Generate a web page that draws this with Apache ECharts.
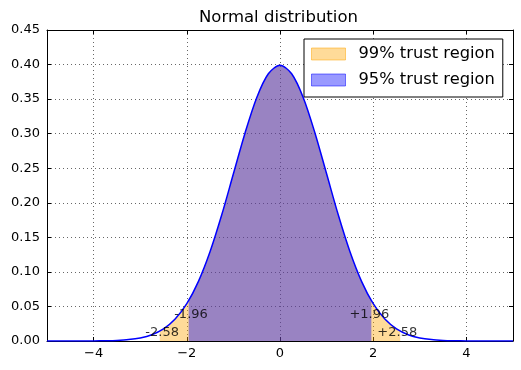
<!DOCTYPE html>
<html>
<head>
<meta charset="utf-8">
<script src="https://cdn.jsdelivr.net/npm/echarts@6/dist/echarts.min.js"></script>
<style>
html,body{margin:0;padding:0;background:#fff;}
#chart{width:521px;height:370px;}
</style>
</head>
<body>
<div id="chart"></div>
<script>
// ---- data ----
const titleText = 'Normal distribution';
const xValues = [-5,-4.75,-4.5,-4.25,-4,-3.75,-3.5,-3.25,-3,-2.75,-2.5,-2.25,-2,-1.75,-1.5,-1.25,-1,-0.75,-0.5,-0.25,0,
                 0.25,0.5,0.75,1,1.25,1.5,1.75,2,2.25,2.5,2.75,3,3.25,3.5,3.75,4,4.25,4.5,4.75,5];
const densityValues = [0,0,0,0,0.0001,0.0004,0.0009,0.0020,0.0044,0.0091,0.0175,0.0317,0.0540,0.0863,0.1295,0.1826,0.2420,0.3011,0.3521,0.3867,0.3989,
                       0.3867,0.3521,0.3011,0.2420,0.1826,0.1295,0.0863,0.0540,0.0317,0.0175,0.0091,0.0044,0.0020,0.0009,0.0004,0.0001,0,0,0,0];
const region99 = [-2.58, 2.58];
const region99Edge = 0.0143;
const region95 = [-1.96, 1.96];
const region95Edge = 0.0584;
const seriesNames = ['99% trust region', '95% trust region'];
const annotations = [
  [-2.88, 0.0115, '-2.58'],
  [-2.26, 0.037, '-1.96'],
  [1.50, 0.037, '+1.96'],
  [2.10, 0.0115, '+2.58']
];
const xTickValues = [-4, -2, 0, 2, 4];
const xTickLabels = ['\u22124', '\u22122', '0', '2', '4'];
const yMin = 0, yMax = 0.45, yStep = 0.05;

// ---- build ----
const curve = xValues.map((x, i) => [x, densityValues[i]]);
function regionData(range, edge) {
  const pts = [[range[0], edge]];
  xValues.forEach((x, i) => { if (x > range[0] && x < range[1]) pts.push([x, densityValues[i]]); });
  pts.push([range[1], edge]);
  return pts;
}
const orangeFill = 'rgba(255,165,0,0.4)';
const blueFill = 'rgba(0,0,255,0.4)';
const font = 'DejaVu Sans';
const dotted = { color: '#000', width: 0.6, type: [1, 3] };

const chart = echarts.init(document.getElementById('chart'), null, { renderer: 'canvas' });
const axisCommonX = {
  type: 'value', min: -5, max: 5,
  axisLine: { show: true, onZero: false, lineStyle: { color: '#000', width: 1 } },
  axisTick: { show: true, inside: true, length: 4, customValues: xTickValues, lineStyle: { color: '#000', width: 1 } },
};
const axisCommonY = {
  type: 'value', min: yMin, max: yMax, interval: yStep,
  axisLine: { show: true, onZero: false, lineStyle: { color: '#000', width: 1 } },
  axisTick: { show: true, inside: true, length: 4, lineStyle: { color: '#000', width: 1 } },
};
chart.setOption({
  animation: false,
  backgroundColor: '#fff',
  title: {
    text: titleText, left: 199, top: 10, padding: 0,
    textStyle: { fontFamily: font, fontSize: 16.5, fontWeight: 'normal', color: '#000', lineHeight: 16 }
  },
  grid: { left: 47, right: 8, top: 30, bottom: 29, containLabel: false },
  legend: {
    orient: 'vertical', left: 304, top: 39,
    padding: [7, 8, 9, 7], itemGap: 10, itemWidth: 34, itemHeight: 12,
    borderColor: '#000', borderWidth: 1, borderRadius: 0, backgroundColor: '#fff',
    textStyle: { fontFamily: font, fontSize: 16.3, color: '#000', lineHeight: 16, padding: [0, 0, 0, 8] },
    data: [
      { name: seriesNames[0], icon: 'rect', itemStyle: { color: orangeFill, borderColor: 'rgba(255,165,0,0.5)', borderWidth: 1 } },
      { name: seriesNames[1], icon: 'rect', itemStyle: { color: blueFill, borderColor: 'rgba(0,0,255,0.5)', borderWidth: 1 } }
    ]
  },
  xAxis: [
    Object.assign({}, axisCommonX, {
      position: 'bottom',
      axisLabel: { show: true, customValues: xTickValues, margin: 6, fontFamily: font, fontSize: 13, color: '#000',
        formatter: v => { const i = xTickValues.indexOf(v); return i >= 0 ? xTickLabels[i] : ''; } },
      splitLine: { show: true, customValues: xTickValues, lineStyle: dotted }
    }),
    Object.assign({}, axisCommonX, {
      position: 'top', axisLabel: { show: false }, splitLine: { show: false }
    })
  ],
  yAxis: [
    Object.assign({}, axisCommonY, {
      position: 'left',
      axisLabel: { show: true, margin: 7, fontFamily: font, fontSize: 13, color: '#000', formatter: v => v.toFixed(2) },
      splitLine: { show: true, lineStyle: dotted }
    }),
    Object.assign({}, axisCommonY, {
      position: 'right', axisLabel: { show: false }, splitLine: { show: false }
    })
  ],
  series: [
    {
      name: seriesNames[0], type: 'line', data: regionData(region99, region99Edge), smooth: 0.3,
      showSymbol: false, lineStyle: { width: 0 }, itemStyle: { color: orangeFill },
      areaStyle: { color: orangeFill, opacity: 1 }, z: 2, silent: true
    },
    {
      name: seriesNames[1], type: 'line', data: regionData(region95, region95Edge), smooth: 0.3,
      showSymbol: false, lineStyle: { width: 0 }, itemStyle: { color: blueFill },
      areaStyle: { color: blueFill, opacity: 1 }, z: 3, silent: true
    },
    {
      name: 'pdf', type: 'line', data: curve, smooth: 0.3, showSymbol: false,
      lineStyle: { color: '#0000ff', width: 1.5 }, itemStyle: { color: '#0000ff' }, z: 4, silent: true
    },
    {
      name: 'labels', type: 'scatter', data: annotations, symbolSize: 1, z: 5, silent: true,
      itemStyle: { color: 'transparent' },
      label: { show: true, position: [0, 0], align: 'left', verticalAlign: 'middle',
        fontFamily: font, fontSize: 13, color: '#000', formatter: p => p.value[2] }
    }
  ]
});
</script>
</body>
</html>
